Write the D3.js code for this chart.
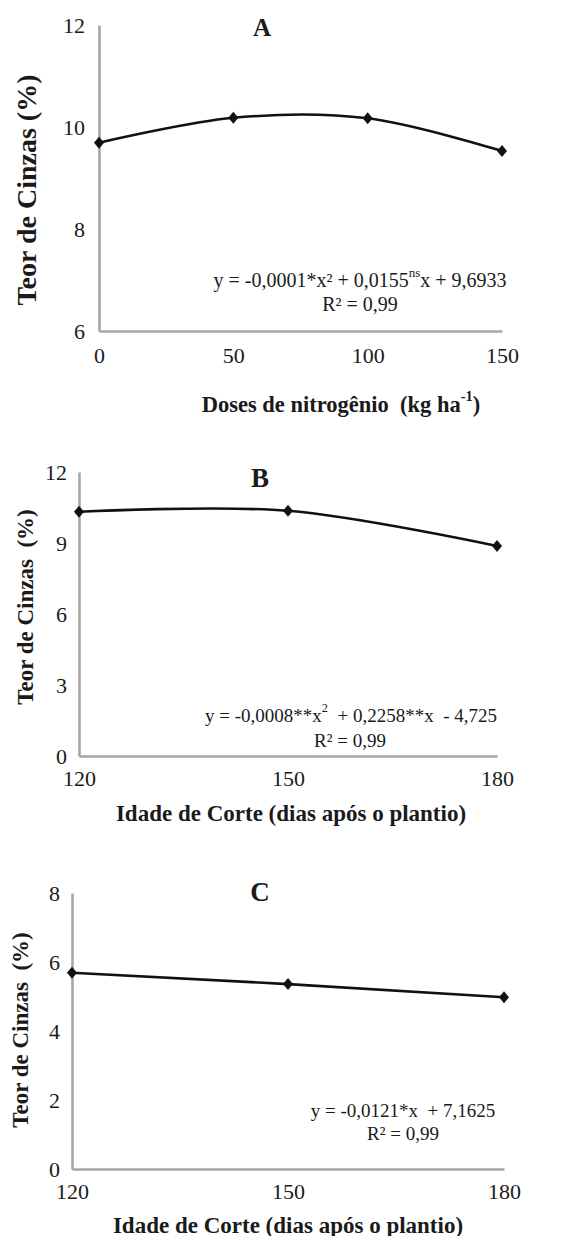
<!DOCTYPE html>
<html><head><meta charset="utf-8">
<script src="https://cdn.jsdelivr.net/npm/d3@7"></script>
<style>body{margin:0;background:#fff}svg{display:block}text{font-family:"Liberation Serif","Times New Roman",serif;fill:#1a1a1a}</style>
</head><body>
<script>
// ---- data ----
const doseN = [0, 50, 100, 150];
const cinzasA = [9.69, 10.18, 10.17, 9.53];
const ticksAy = [6, 8, 10, 12];
const ticksAx = [0, 50, 100, 150];

const idadeB = [120, 150, 180];
const cinzasB = [10.32, 10.36, 8.87];
const ticksBy = [0, 3, 6, 9, 12];
const ticksBx = [120, 150, 180];

const idadeC = [120, 150, 180];
const cinzasC = [5.69, 5.36, 4.98];
const ticksCy = [0, 2, 4, 6, 8];
const ticksCx = [120, 150, 180];

const W = 565, H = 1236;
const SERIF = '"Liberation Serif","Times New Roman",serif';
const svg = d3.select("body").append("svg").attr("width", W).attr("height", H);

function panel(o) {
  const x = d3.scaleLinear().domain(o.xd).range([o.x0, o.x1]);
  const y = d3.scaleLinear().domain(o.yd).range([o.y0, o.y1]);
  const g = svg.append("g");
  const axL = g.append("g").attr("transform", `translate(${o.x0},0)`)
    .call(d3.axisLeft(y).tickValues(o.yt).tickFormat(d3.format("d")).tickSize(0).tickSizeOuter(0).tickPadding(o.padY));
  const axB = g.append("g").attr("transform", `translate(0,${o.y0})`)
    .call(d3.axisBottom(x).tickValues(o.xt).tickFormat(d3.format("d")).tickSize(0).tickSizeOuter(0).tickPadding(o.padX));
  [axL, axB].forEach(a => {
    a.attr("font-family", SERIF).attr("font-size", o.tickFs);
    a.select(".domain").attr("stroke", "#a6a6a6").attr("stroke-width", 2.6);
    a.selectAll("text").attr("font-family", SERIF).attr("font-size", o.tickFs).attr("fill", "#1a1a1a");
  });
  const pts = o.xs.map((v, i) => [x(v), y(o.ys[i])]);
  g.append("path").attr("d", d3.line().curve(o.curve)(pts))
    .attr("fill", "none").attr("stroke", "#111").attr("stroke-width", 2.6);
  g.selectAll("path.m").data(pts).join("path").attr("class", "m")
    .attr("d", d => `M${d[0]},${d[1]-6}L${d[0]+5},${d[1]}L${d[0]},${d[1]+6}L${d[0]-5},${d[1]}Z`)
    .attr("fill", "#111");
  g.append("text").attr("x", o.tx).attr("y", o.ty).attr("text-anchor", "middle")
    .attr("dominant-baseline", "central").attr("font-weight", "bold").attr("font-size", o.titleFs).text(o.title);
  g.append("text").attr("transform", `translate(${o.ylx},${o.yly}) rotate(-90)`).attr("text-anchor", "middle")
    .attr("dominant-baseline", "central").attr("font-weight", "bold").attr("font-size", o.ylFs)
    .attr("xml:space", "preserve").text(o.ylab);
  const xl = g.append("text").attr("x", o.xlx).attr("y", o.xly).attr("text-anchor", "middle")
    .attr("dominant-baseline", "central").attr("font-weight", "bold").attr("font-size", o.xlFs).attr("xml:space", "preserve");
  o.xlab.forEach(p => {
    const t = xl.append("tspan").text(p.t);
    if (p.sup) t.attr("baseline-shift", "super").attr("font-size", o.xlFs * 0.65);
  });
  const eq = g.append("text").attr("x", o.ex).attr("y", o.ey).attr("text-anchor", "middle")
    .attr("dominant-baseline", "central").attr("font-size", o.eqFs).attr("xml:space", "preserve");
  o.eq.forEach(p => {
    const t = eq.append("tspan").text(p.t);
    if (p.sup) t.attr("baseline-shift", "super").attr("font-size", o.eqFs * 0.65);
  });
  g.append("text").attr("x", o.rx).attr("y", o.ry).attr("text-anchor", "middle")
    .attr("dominant-baseline", "central").attr("font-size", o.eqFs).text("R² = 0,99");
}

panel({
  xs: doseN, ys: cinzasA, xd: [0, 150], yd: [6, 12], xt: ticksAx, yt: ticksAy,
  x0: 99, x1: 502, y0: 331, y1: 25, padY: 14, padX: 16, tickFs: 22,
  curve: d3.curveCatmullRom.alpha(0),
  title: "A", tx: 262, ty: 27, titleFs: 25,
  ylab: "Teor de Cinzas (%)", ylx: 26, yly: 190, ylFs: 28,
  xlab: [{t: "Doses de nitrogênio  (kg ha"}, {t: "-1", sup: true}, {t: ")"}], xlx: 341, xly: 404, xlFs: 22.5,
  eq: [{t: "y = -0,0001*x² + 0,0155"}, {t: "ns", sup: true}, {t: "x + 9,6933"}], ex: 360, ey: 280,
  rx: 360, ry: 304, eqFs: 20
});

panel({
  xs: idadeB, ys: cinzasB, xd: [120, 180], yd: [0, 12], xt: ticksBx, yt: ticksBy,
  x0: 79, x1: 497, y0: 756, y1: 472, padY: 12, padX: 14, tickFs: 22,
  curve: d3.curveCatmullRom.alpha(0),
  title: "B", tx: 260, ty: 478, titleFs: 27,
  ylab: "Teor de Cinzas  (%)", ylx: 25, yly: 607, ylFs: 23,
  xlab: [{t: "Idade de Corte (dias após o plantio)"}], xlx: 291, xly: 813, xlFs: 23,
  eq: [{t: "y = -0,0008**x"}, {t: "2", sup: true}, {t: "  + 0,2258**x  - 4,725"}], ex: 351, ey: 715,
  rx: 350, ry: 740, eqFs: 19
});

panel({
  xs: idadeC, ys: cinzasC, xd: [120, 180], yd: [0, 8], xt: ticksCx, yt: ticksCy,
  x0: 72, x1: 504, y0: 1169, y1: 893, padY: 12, padX: 14, tickFs: 22,
  curve: d3.curveLinear,
  title: "C", tx: 260, ty: 892, titleFs: 27,
  ylab: "Teor de Cinzas  (%)", ylx: 20, yly: 1030, ylFs: 23,
  xlab: [{t: "Idade de Corte (dias após o plantio)"}], xlx: 288, xly: 1225, xlFs: 23,
  eq: [{t: "y = -0,0121*x  + 7,1625"}], ex: 403, ey: 1110,
  rx: 403, ry: 1133, eqFs: 19
});
</script>
</body></html>
